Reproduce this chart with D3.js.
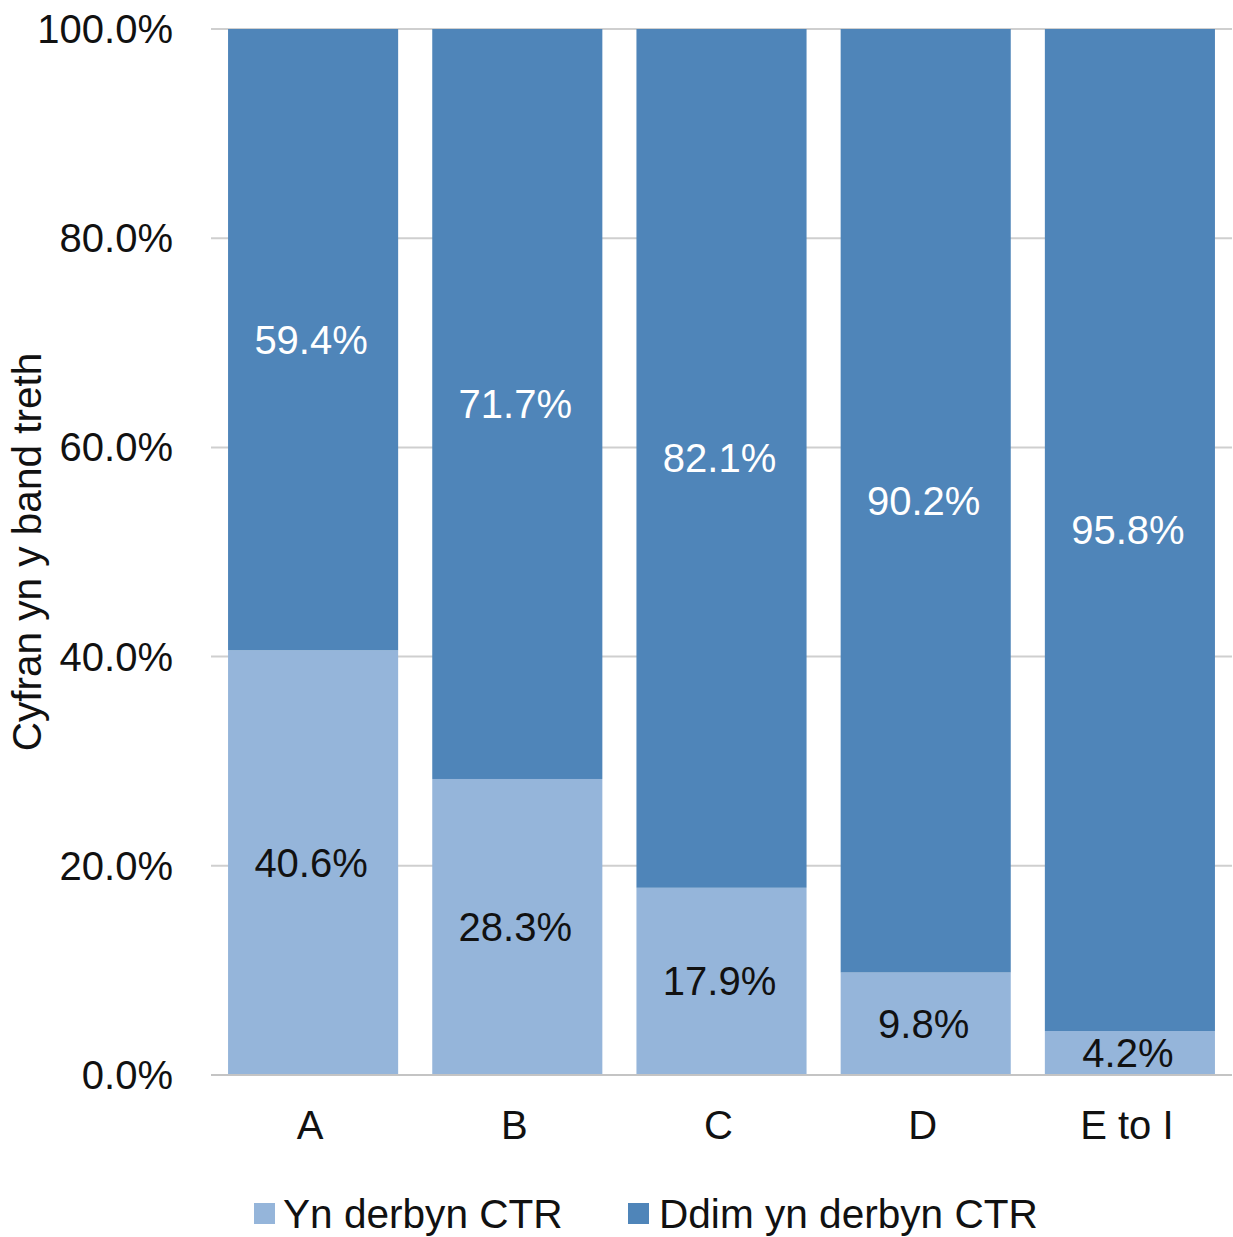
<!DOCTYPE html>
<html>
<head>
<meta charset="utf-8">
<script src="https://cdn.jsdelivr.net/npm/d3@7"></script>
<style>
  html, body { margin: 0; padding: 0; background: #fff; }
  svg { display: block; font-family: "Liberation Sans", Arial, sans-serif; }
</style>
</head>
<body>
<svg id="chart" width="1233" height="1237"></svg>
<script>
const categories = ["A", "B", "C", "D", "E to I"];
const receivingCTR = [40.6, 28.3, 17.9, 9.8, 4.2];
const notReceivingCTR = [59.4, 71.7, 82.1, 90.2, 95.8];
const yTicks = [0, 20, 40, 60, 80, 100];
const seriesNames = ["Yn derbyn CTR", "Ddim yn derbyn CTR"];
const yTitle = "Cyfran yn y band treth";

const colors = ["#95b5da", "#4f85b9"];
const labelColors = ["#111", "#fff"];

const svg = d3.select("#chart");
const margin = { left: 211, right: 1, top: 29, bottom: 162 };
const W = 1233, H = 1237;
const plotBottom = H - margin.bottom; // 1075

const x = d3.scaleBand()
  .domain(categories)
  .range([margin.left, W - margin.right])
  .paddingInner(0.167)
  .paddingOuter(0.0835);

const y = d3.scaleLinear().domain([0, 100]).range([plotBottom, margin.top]);

// gridlines
svg.append("g")
  .selectAll("line")
  .data(yTicks)
  .join("line")
  .attr("x1", margin.left)
  .attr("x2", W - margin.right)
  .attr("y1", d => y(d))
  .attr("y2", d => y(d))
  .attr("stroke", d => d === 0 ? "#b5b5b5" : "#cfcfcf")
  .attr("stroke-width", 2);

// y tick labels
svg.append("g")
  .selectAll("text")
  .data(yTicks)
  .join("text")
  .attr("x", 173)
  .attr("y", d => y(d))
  .attr("dy", "0.35em")
  .attr("text-anchor", "end")
  .attr("font-size", 40)
  .attr("fill", "#111")
  .text(d => d.toFixed(1) + "%");

// stacked data
const rows = categories.map((c, i) => ({ cat: c, s0: receivingCTR[i], s1: notReceivingCTR[i] }));
const stack = d3.stack().keys(["s0", "s1"]);
const stacked = stack(rows);

const gBars = svg.append("g");
stacked.forEach((layer, li) => {
  gBars.append("g")
    .selectAll("rect")
    .data(layer)
    .join("rect")
    .attr("x", d => x(d.data.cat))
    .attr("width", x.bandwidth())
    .attr("y", d => y(d[1]))
    .attr("height", d => y(d[0]) - y(d[1]))
    .attr("fill", colors[li]);
});

// baseline redraw on top
svg.append("line")
  .attr("x1", margin.left).attr("x2", W - margin.right)
  .attr("y1", y(0)).attr("y2", y(0))
  .attr("stroke", "#c4c4c4").attr("stroke-width", 2);

// value labels
stacked.forEach((layer, li) => {
  svg.append("g")
    .selectAll("text")
    .data(layer)
    .join("text")
    .attr("x", d => x(d.data.cat) + x.bandwidth() / 2 - 2)
    .attr("y", d => y((d[0] + d[1]) / 2))
    .attr("dy", "0.35em")
    .attr("text-anchor", "middle")
    .attr("font-size", 40)
    .attr("fill", labelColors[li])
    .text(d => (d[1] - d[0]).toFixed(1) + "%");
});

// x labels
svg.append("g")
  .selectAll("text")
  .data(categories)
  .join("text")
  .attr("x", d => x(d) + x.bandwidth() / 2 - 3)
  .attr("y", 1139)
  .attr("text-anchor", "middle")
  .attr("font-size", 40)
  .attr("fill", "#111")
  .text(d => d);

// y title
svg.append("text")
  .attr("transform", `translate(41, ${(y(0) + y(100)) / 2}) rotate(-90)`)
  .attr("text-anchor", "middle")
  .attr("font-size", 40.5)
  .attr("fill", "#111")
  .text(yTitle);

// legend
const legendSquareX = [254, 628];
const legendTextX = [283, 659];
const leg = svg.append("g");
seriesNames.forEach((name, i) => {
  leg.append("rect")
    .attr("x", legendSquareX[i]).attr("y", 1203)
    .attr("width", 21).attr("height", 21)
    .attr("fill", colors[i]);
  leg.append("text")
    .attr("x", legendTextX[i])
    .attr("y", 1228)
    .attr("font-size", 40.6)
    .attr("fill", "#111")
    .text(name);
});
</script>
</body>
</html>
